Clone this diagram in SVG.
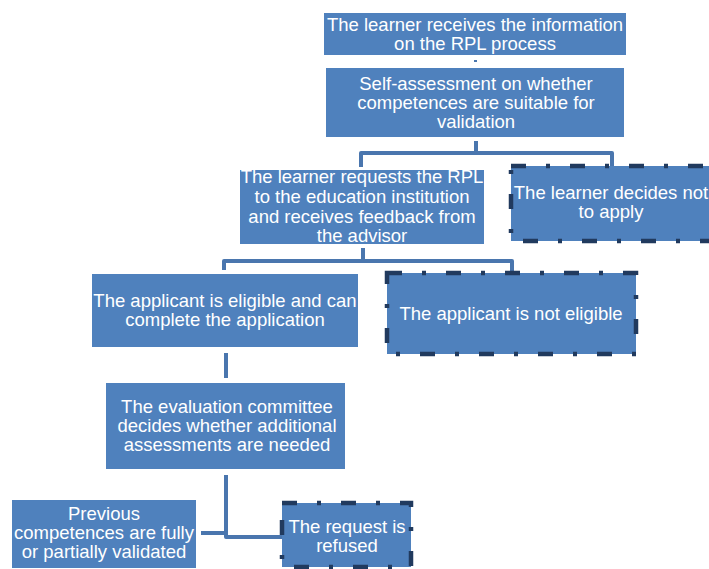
<svg xmlns="http://www.w3.org/2000/svg" width="709" height="569" viewBox="0 0 709 569">
  <style>
    .box { fill: #4F81BD; }
    .alt { fill: #4F81BD; stroke: #213A5E; stroke-width: 4.5; stroke-dasharray: 15 20 4 20; }
    .label { font-family: "Liberation Sans", Arial, sans-serif; font-size: 18.5px; fill: #FFFFFF; text-anchor: middle; }
    .link { fill: none; stroke: #4A76AE; stroke-width: 4; stroke-linejoin: round; }
  </style>
  <rect width="709" height="569" fill="#FFFFFF"/>

  <!-- connectors -->
  <g id="connectors">
    <rect x="474" y="60" width="3" height="2" fill="#4A76AE"/>
    <path class="link" d="M476 141 V153 H361 V167 M476 153 H612 V166"/>
    <path class="link" d="M363 248 V261 H224 V270 M363 261 H512 V273"/>
    <path class="link" d="M226 353 V378"/>
    <path class="link" d="M226 475 V537 H282 M201 533 H226"/>
  </g>

  <g id="info">
    <rect class="box" x="324" y="13" width="302" height="42"/>
    <text class="label" x="475" y="31">The learner receives the information</text>
    <text class="label" x="475" y="50">on the RPL process</text>
  </g>

  <g id="self-assessment">
    <rect class="box" x="326" y="68" width="298" height="69"/>
    <text class="label" x="476" y="90">Self-assessment on whether</text>
    <text class="label" x="476" y="109">competences are suitable for</text>
    <text class="label" x="476" y="128">validation</text>
  </g>

  <g id="request">
    <rect class="box" x="240" y="170" width="244" height="74"/>
    <text class="label" x="362" y="183">The learner requests the RPL</text>
    <text class="label" x="362" y="203">to the education institution</text>
    <text class="label" x="362" y="223">and receives feedback from</text>
    <text class="label" x="362" y="242">the advisor</text>
  </g>

  <g id="not-apply">
    <rect class="alt" x="511" y="166" width="212" height="75"/>
    <text class="label" x="611" y="199">The learner decides not</text>
    <text class="label" x="611" y="218">to apply</text>
  </g>

  <g id="eligible">
    <rect class="box" x="92" y="274" width="266" height="73"/>
    <text class="label" x="225" y="307">The applicant is eligible and can</text>
    <text class="label" x="225" y="326">complete the application</text>
  </g>

  <g id="not-eligible">
    <rect class="alt" x="387" y="273" width="249" height="81"/>
    <text class="label" x="511" y="320">The applicant is not eligible</text>
  </g>

  <g id="committee">
    <rect class="box" x="106" y="383" width="239" height="86"/>
    <text class="label" x="227" y="413">The evaluation committee</text>
    <text class="label" x="227" y="432">decides whether additional</text>
    <text class="label" x="227" y="451">assessments are needed</text>
  </g>

  <g id="validated">
    <rect class="box" x="12" y="500" width="184" height="68"/>
    <text class="label" x="104" y="520">Previous</text>
    <text class="label" x="104" y="539">competences are fully</text>
    <text class="label" x="104" y="558">or partially validated</text>
  </g>

  <g id="refused">
    <rect class="alt" x="282" y="503" width="129" height="64"/>
    <text class="label" x="347" y="533">The request is</text>
    <text class="label" x="347" y="552">refused</text>
  </g>
</svg>
